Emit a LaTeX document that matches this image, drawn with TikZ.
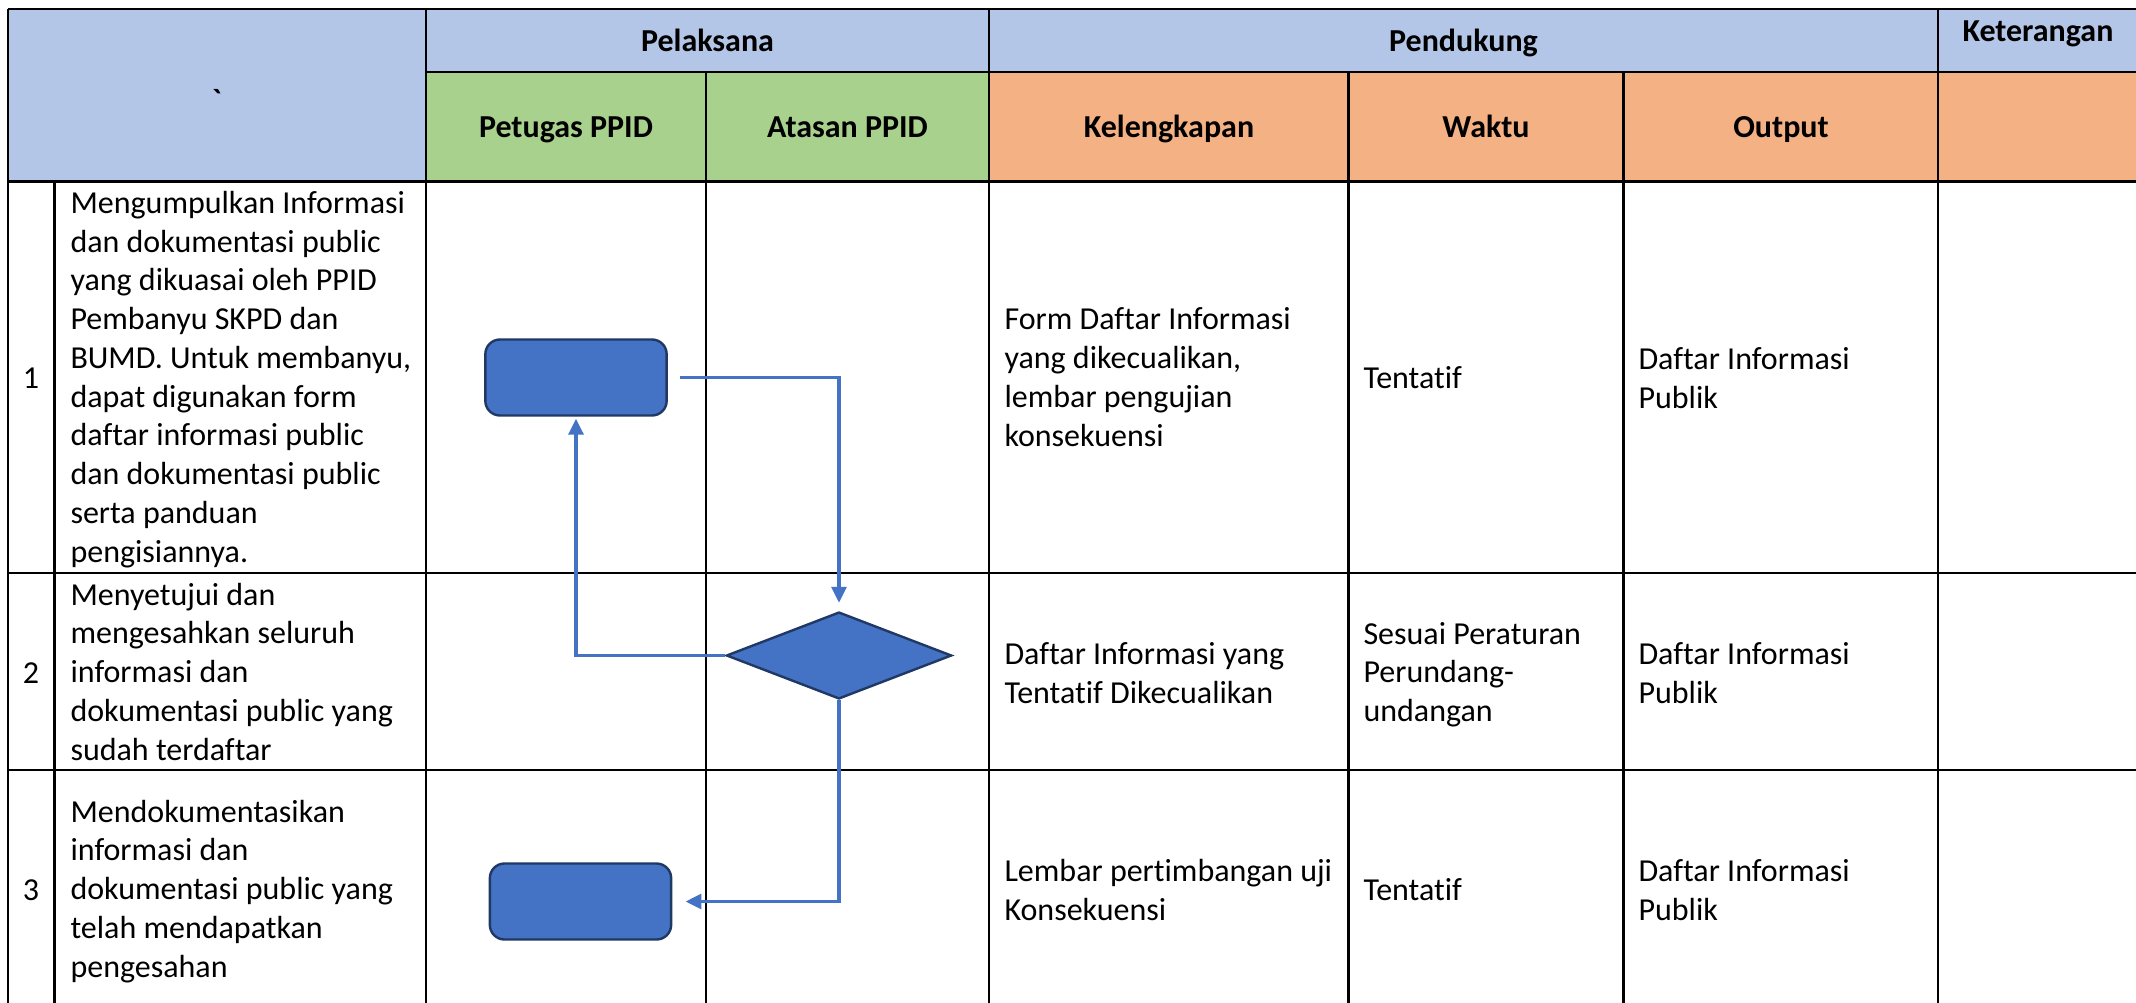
\documentclass[tikz,border=0pt]{standalone}
\usepackage{fontspec}
\setmainfont{Carlito}[Ligatures=NoCommon]
\usetikzlibrary{arrows.meta,positioning,shapes.geometric}
\definecolor{HeadBlue}{HTML}{B4C6E7}
\definecolor{HeadGreen}{HTML}{A9D18E}
\definecolor{HeadOrange}{HTML}{F4B183}
\definecolor{FlowFill}{HTML}{4472C4}
\definecolor{FlowEdge}{HTML}{1F3864}
\tikzset{>=Stealth,grid/.style={line width=1pt,black},
 cell/.style={font=\fontsize{12}{14.53}\selectfont,inner sep=0pt,align=left,anchor=base west},
 head/.style={font=\fontsize{12}{14.53}\selectfont\bfseries,inner sep=0pt,anchor=base},
 num/.style={font=\fontsize{12}{14.53}\selectfont,inner sep=0pt,anchor=base},
 procbox/.style={rectangle,rounded corners=5.5pt,draw=FlowEdge,fill=FlowFill,
 line width=0.9pt,minimum width=68pt,minimum height=28.5pt,inner sep=0pt},
 decision/.style={diamond,draw=FlowEdge,fill=FlowFill,line width=0.9pt,
 minimum width=84.5pt,minimum height=32.6pt,inner sep=0pt},
 flow/.style={draw=FlowFill,line width=1.4pt,-{Triangle[length=6pt,width=5.5pt]}}}

\begin{document}
\begin{tikzpicture}[x=0.375pt,y=-0.375pt]
\path[use as bounding box,clip] (0,0) rectangle (2136,1003);
\fill[HeadBlue] (8,9) rectangle (426,181.5);
\fill[HeadBlue] (426,9) rectangle (2145,72);
\fill[HeadGreen] (426,72) rectangle (989,181.5);
\fill[HeadOrange] (989,72) rectangle (2145,181.5);
\foreach \y in {9,181.5,573,770,1004} \draw[grid] (8,\y)--(2145,\y);
\draw[grid] (426,72)--(2145,72);
\foreach \x in {8,426,989,1938} \draw[grid] (\x,9)--(\x,1010);
\draw[grid] (54.5,181.5)--(54.5,1010);
\foreach \x in {706,1348.5,1623.5} \draw[grid] (\x,72)--(\x,1010);

\node[head] (hpel) at (707.5,52) {Pelaksana};
\node[head] (hpen) at (1463.5,52) {Pendukung};
\node[head] (hket) at (2038,41) {Keterangan};
\node[head] (hpet) at (566,137) {Petugas PPID};
\node[head] (hata) at (847.5,137) {Atasan PPID};
\node[head] (hkel) at (1169,137) {Kelengkapan};
\node[head] (hwak) at (1486,137) {Waktu};
\node[head] (hout) at (1781,137) {Output};
\node[head] (hmark) at (217,111) {\textasciigrave};

\node[num] (n1) at (31,388) {1};
\node[num] (n2) at (31,683) {2};
\node[num] (n3) at (31,900) {3};

\node[cell] (d1) at (70,562) {Mengumpulkan Informasi\\dan dokumentasi public\\yang dikuasai oleh PPID\\
 Pembanyu SKPD dan\\BUMD. Untuk membanyu,\\dapat digunakan form\\daftar informasi public\\
 dan dokumentasi public\\serta panduan\\pengisiannya.};
\node[cell] (d2) at (70,760) {Menyetujui dan\\mengesahkan seluruh\\informasi dan\\
 dokumentasi public yang\\sudah terdaftar};
\node[cell] (d3) at (70,977) {Mendokumentasikan\\informasi dan\\dokumentasi public yang\\
 telah mendapatkan\\pengesahan};

\node[cell] (k1) at (1004,446) {Form Daftar Informasi\\yang dikecualikan,\\lembar pengujian\\konsekuensi};
\node[cell] (k2) at (1004,703) {Daftar Informasi yang\\Tentatif Dikecualikan};
\node[cell] (k3) at (1004,920) {Lembar pertimbangan uji\\Konsekuensi};
\node[cell] (w1) at (1363,388) {Tentatif};
\node[cell] (w2) at (1363,721.5) {Sesuai Peraturan\\Perundang-\\undangan};
\node[cell] (w3) at (1363,900) {Tentatif};
\node[cell] (o1) at (1638,408) {Daftar Informasi\\Publik};
\node[cell] (o2) at (1638,703) {Daftar Informasi\\Publik};
\node[cell] (o3) at (1638,920) {Daftar Informasi\\Publik};

\node[procbox] (s1) at (576,377.5) {};
\node[decision] (s2) at (839,655.5) {};
\node[procbox] (s3) at (580.5,901.5) {};
\draw[flow,shorten >=3pt] ([xshift=4.5pt]s1.east) -| (s2.north);
\draw[flow,shorten >=0.7pt] (s2.west) -| (s1.south);
\draw[flow,shorten >=4.9pt] (s2.south) |- (s3.east);
\end{tikzpicture}
\end{document}
